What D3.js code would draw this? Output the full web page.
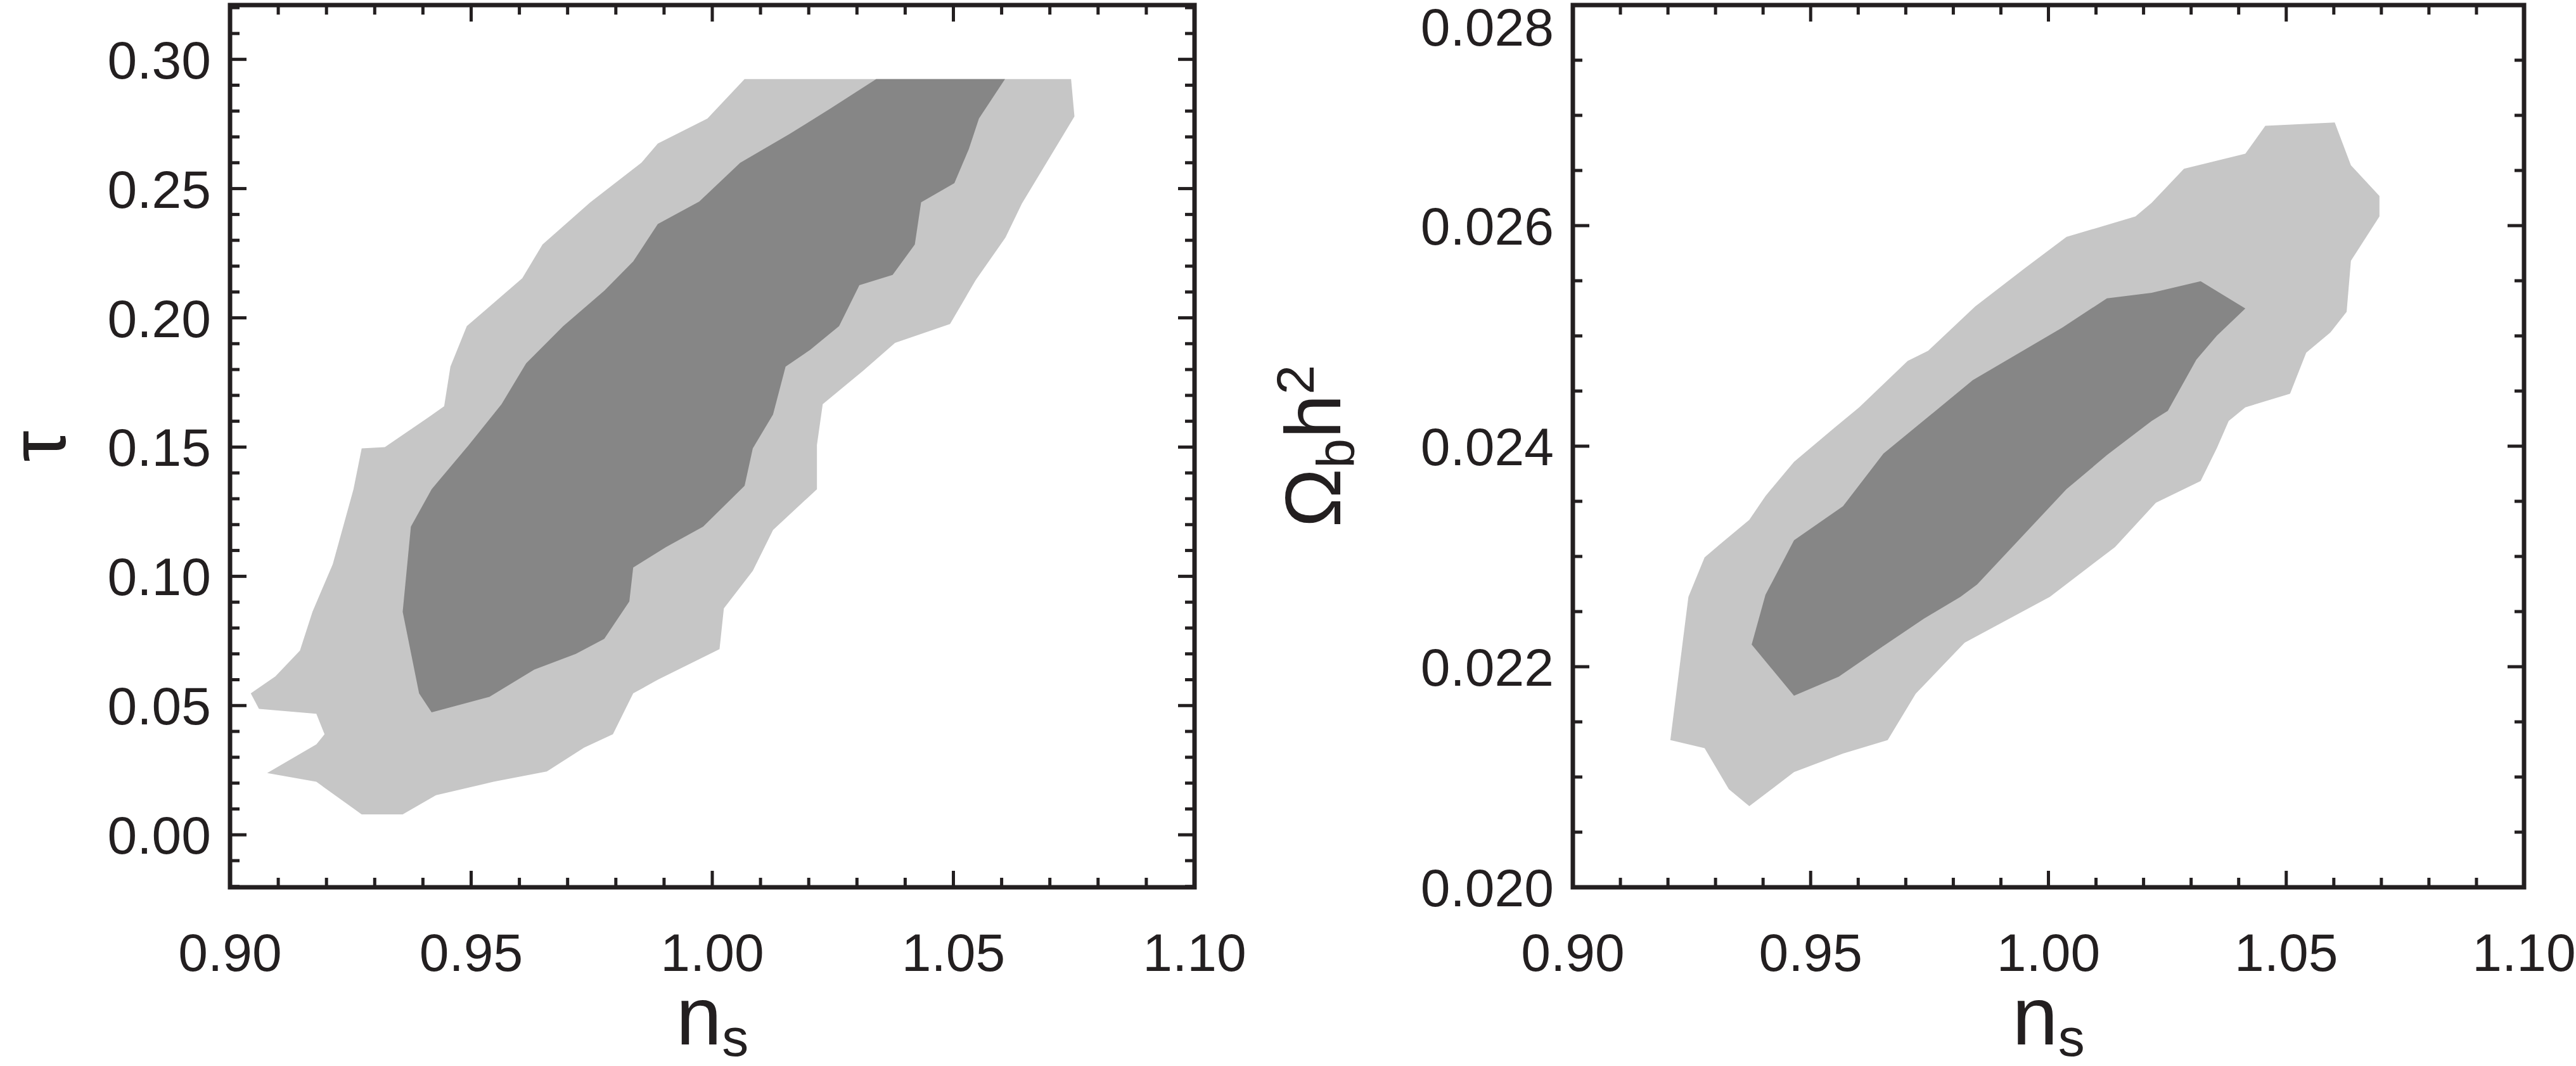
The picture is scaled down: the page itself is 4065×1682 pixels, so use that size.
<!DOCTYPE html>
<html><head><meta charset="utf-8">
<script src="https://cdn.jsdelivr.net/npm/d3@7"></script>
<style>
body{margin:0;background:#fff;}
text{font-family:"Liberation Sans Narrow","Liberation Sans",Arial,sans-serif;fill:#231f20;}
</style></head>
<body><div id="viz"></div>
<script>
const width = 4065, height = 1682;

// tau vs n_s contours [n_s, tau]
const tauOuter = [[1.0067,0.2924],[1.0744,0.2924],[1.0751,0.2779],[1.0642,0.2442],[1.0608,0.2311],[1.0546,0.2145],[1.0493,0.1976],[1.0379,0.1903],[1.0314,0.1797],[1.0229,0.1666],[1.0217,0.1508],[1.0217,0.1337],[1.0126,0.1179],[1.0084,0.1021],[1.0024,0.0876],[1.0015,0.0718],[0.9887,0.0600],[0.9836,0.0547],[0.9794,0.0389],[0.9734,0.0337],[0.9657,0.0245],[0.9546,0.0205],[0.9427,0.0153],[0.9358,0.0079],[0.9273,0.0079],[0.9179,0.0205],[0.9077,0.0239],[0.9179,0.0350],[0.9196,0.0389],[0.9179,0.0468],[0.9060,0.0487],[0.9043,0.0547],[0.9094,0.0613],[0.9145,0.0713],[0.9171,0.0863],[0.9213,0.1047],[0.9256,0.1337],[0.9273,0.1495],[0.9321,0.1500],[0.9410,0.1613],[0.9444,0.1658],[0.9457,0.1811],[0.9491,0.1968],[0.9606,0.2153],[0.9648,0.2284],[0.9747,0.2447],[0.9853,0.2600],[0.9887,0.2674],[0.9990,0.2771]];
const tauInner = [[1.0340,0.2924],[1.0607,0.2924],[1.0553,0.2771],[1.0532,0.2653],[1.0502,0.2521],[1.0433,0.2447],[1.0420,0.2284],[1.0374,0.2166],[1.0305,0.2126],[1.0263,0.1968],[1.0203,0.1876],[1.0152,0.1811],[1.0126,0.1626],[1.0084,0.1495],[1.0067,0.1350],[1.0024,0.1271],[0.9981,0.1192],[0.9904,0.1113],[0.9836,0.1034],[0.9828,0.0903],[0.9776,0.0758],[0.9717,0.0700],[0.9631,0.0639],[0.9538,0.0534],[0.9418,0.0474],[0.9392,0.0547],[0.9358,0.0863],[0.9375,0.1192],[0.9418,0.1337],[0.9495,0.1508],[0.9563,0.1666],[0.9614,0.1824],[0.9691,0.1968],[0.9776,0.2105],[0.9836,0.2218],[0.9887,0.2363],[0.9973,0.2450],[1.0058,0.2600],[1.0160,0.2711],[1.0246,0.2811]];

// Omega_b h^2 vs n_s contours [n_s, ombh2]
const obOuter = [[1.0602,0.026936],[1.0636,0.026547],[1.0696,0.026269],[1.0696,0.026083],[1.0636,0.025681],[1.0627,0.025218],[1.0593,0.025032],[1.0542,0.024847],[1.0508,0.024476],[1.0414,0.024352],[1.0379,0.024228],[1.0354,0.023981],[1.0320,0.023684],[1.0226,0.023487],[1.0140,0.023085],[1.0003,0.022634],[0.9824,0.022219],[0.9721,0.021756],[0.9662,0.021335],[0.9568,0.021212],[0.9465,0.021045],[0.9422,0.020903],[0.9371,0.020736],[0.9328,0.020890],[0.9277,0.021261],[0.9205,0.021335],[0.9243,0.022634],[0.9277,0.022992],[0.9311,0.023116],[0.9371,0.023332],[0.9405,0.023548],[0.9465,0.023858],[0.9550,0.024167],[0.9602,0.024352],[0.9704,0.024773],[0.9747,0.024865],[0.9846,0.025267],[0.9952,0.025619],[1.0038,0.025898],[1.0183,0.026083],[1.0217,0.026207],[1.0285,0.026516],[1.0414,0.026652],[1.0456,0.026905]];
const obInner = [[1.0320,0.025496],[1.0414,0.025249],[1.0354,0.025001],[1.0311,0.024785],[1.0251,0.024321],[1.0217,0.024228],[1.0123,0.023919],[1.0038,0.023610],[0.9944,0.023178],[0.9850,0.022745],[0.9815,0.022634],[0.9738,0.022436],[0.9653,0.022188],[0.9559,0.021910],[0.9465,0.021737],[0.9376,0.022201],[0.9405,0.022652],[0.9465,0.023147],[0.9568,0.023456],[0.9653,0.023932],[0.9841,0.024599],[1.0029,0.025075],[1.0123,0.025341],[1.0217,0.025391]];

const nsTicks = [0.90, 0.95, 1.00, 1.05, 1.10];
const tauTicks = [0.00, 0.05, 0.10, 0.15, 0.20, 0.25, 0.30];
const obTicks = [0.020, 0.022, 0.024, 0.026, 0.028];

const panels = [
  {x0: 363, x1: 1885, xDom: [0.9, 1.1], yDom: [-0.0203, 0.321], yTicks: tauTicks, yMinor: 0.01, yFmt: d3.format('.2f'),
   outer: tauOuter, inner: tauInner, ylabel: 'tau', ylx: 68},
  {x0: 2482, x1: 3983, xDom: [0.9, 1.1], yDom: [0.020, 0.028], yTicks: obTicks, yMinor: 0.0005, yFmt: d3.format('.3f'),
   outer: obOuter, inner: obInner, ylabel: 'omega', ylx: 2075}
];
const y0 = 8, y1 = 1400;

const svg = d3.select('#viz').append('svg')
  .attr('width', width).attr('height', height);

panels.forEach(p => {
  const x = d3.scaleLinear().domain(p.xDom).range([p.x0, p.x1]);
  const y = d3.scaleLinear().domain(p.yDom).range([y1, y0]);
  const g = svg.append('g');
  const line = d3.line().x(d => x(d[0])).y(d => y(d[1]));

  g.append('path').attr('d', line(p.outer) + 'Z').attr('fill', '#c6c6c6');
  g.append('path').attr('d', line(p.inner) + 'Z').attr('fill', '#868686');

  // minor ticks
  const xMinor = d3.range(0.90, 1.1001, 0.01);
  const yMinor = d3.range(Math.ceil(p.yDom[0] / p.yMinor - 1e-6), Math.floor(p.yDom[1] / p.yMinor + 1e-6) + 1)
    .map(i => i * p.yMinor);
  const isMajor = (v, ticks) => ticks.some(t => Math.abs(t - v) < 1e-7);

  xMinor.forEach(v => {
    const L = isMajor(v, nsTicks) ? 26 : 15;
    g.append('line').attr('x1', x(v)).attr('x2', x(v)).attr('y1', y1).attr('y2', y1 - L).attr('stroke', '#231f20').attr('stroke-width', 5);
    g.append('line').attr('x1', x(v)).attr('x2', x(v)).attr('y1', y0).attr('y2', y0 + L).attr('stroke', '#231f20').attr('stroke-width', 5);
  });
  yMinor.forEach(v => {
    const L = isMajor(v, p.yTicks) ? 26 : 15;
    g.append('line').attr('y1', y(v)).attr('y2', y(v)).attr('x1', p.x0).attr('x2', p.x0 + L).attr('stroke', '#231f20').attr('stroke-width', 5);
    g.append('line').attr('y1', y(v)).attr('y2', y(v)).attr('x1', p.x1).attr('x2', p.x1 - L).attr('stroke', '#231f20').attr('stroke-width', 5);
  });

  g.append('rect').attr('x', p.x0).attr('y', y0).attr('width', p.x1 - p.x0).attr('height', y1 - y0)
    .attr('fill', 'none').attr('stroke', '#231f20').attr('stroke-width', 7);

  g.selectAll('.xl').data(nsTicks).join('text')
    .attr('x', d => x(d)).attr('y', 1532).attr('text-anchor', 'middle')
    .attr('font-size', 84).text(d => d3.format('.2f')(d));
  g.selectAll('.yl').data(p.yTicks).join('text')
    .attr('x', p.x0 - 30).attr('y', d => Math.max(y(d) + 30, 72)).attr('text-anchor', 'end')
    .attr('font-size', 84).text(d => p.yFmt(d));

  // x title n_s
  const xt = g.append('text').attr('x', (p.x0 + p.x1) / 2).attr('y', 1648).attr('text-anchor', 'middle').attr('font-size', 130);
  xt.append('tspan').text('n');
  xt.append('tspan').attr('font-size', 84).attr('dy', 18).text('s');

  const yt = g.append('text').attr('text-anchor', 'middle')
    .attr('transform', `translate(${p.ylx},${(y0 + y1) / 2}) rotate(-90)`);
  if (p.ylabel === 'tau') {
    yt.attr('font-size', 125).attr('dy', 35).text('τ');
  } else {
    yt.attr('font-size', 125).attr('dy', 40);
    yt.append('tspan').text('Ω');
    yt.append('tspan').attr('font-size', 84).attr('dy', 22).text('b');
    yt.append('tspan').attr('dy', -22).text('h');
    yt.append('tspan').attr('font-size', 84).attr('dy', -42).text('2');
  }
});
</script></body></html>
